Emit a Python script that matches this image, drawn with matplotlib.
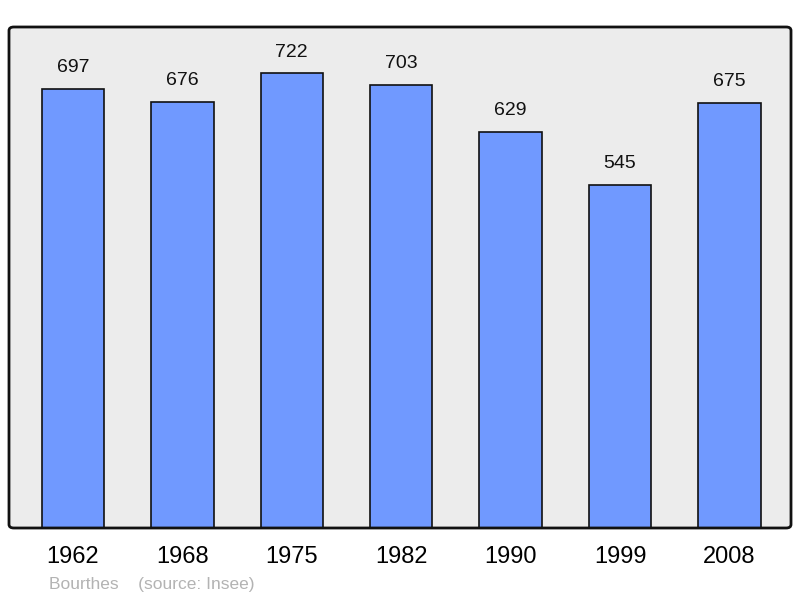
import matplotlib
matplotlib.use("Agg")
import matplotlib.pyplot as plt
from matplotlib.patches import FancyBboxPatch

years = ["1962", "1968", "1975", "1982", "1990", "1999", "2008"]
population = [697, 676, 722, 703, 629, 545, 675]

plt.rcParams['font.family'] = ['Liberation Sans', 'DejaVu Sans']

fig = plt.figure(figsize=(8, 5.98), dpi=100)
ax = fig.add_axes([9/800, 70/598, 782/800, 501/598])
ax.set_facecolor('#ececec')

x = list(range(len(years)))
bars = ax.bar(x, population, width=0.572, color='#7099ff', edgecolor='#111111', linewidth=1.2, zorder=3)
for xi, v in zip(x, population):
    ax.annotate(str(v), (xi, v), xytext=(0, 9), textcoords='offset points',
                ha='center', va='bottom', fontsize=14, color='#111111')

ax.set_xlim(-0.585, 6.563)
ax.set_ylim(0, 795)
ax.set_yticks([])
ax.set_xticks(x)
ax.set_xticklabels(years, fontsize=17)
ax.tick_params(axis='x', length=0, pad=13)
for s in ax.spines.values():
    s.set_visible(False)

frame = FancyBboxPatch((9/800, 70/598), 782/800, 501/598, boxstyle="round,pad=0,rounding_size=0.006",
                       transform=fig.transFigure, fill=False, edgecolor='#111111', linewidth=2, zorder=10)
fig.patches.append(frame)

fig.text(49/800, 1 - 584/598, "Bourthes    (source: Insee)", fontsize=12.5, color='#b3b3b3', va='center', ha='left')

fig.savefig("out.png", dpi=100)
